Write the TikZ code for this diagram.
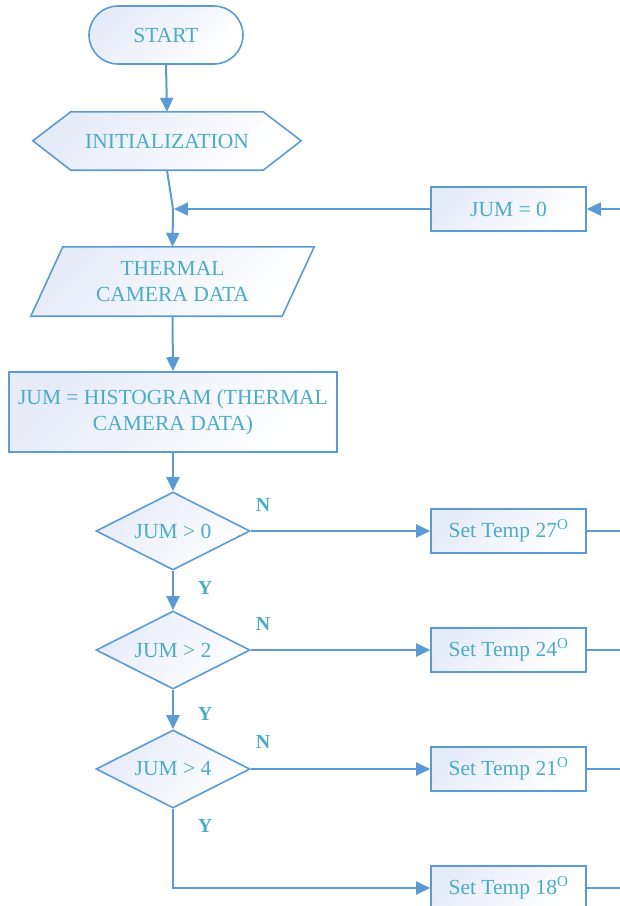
\documentclass[tikz,border=0pt]{standalone}
\usepackage{fontspec}
\setmainfont{Liberation Serif}
\usetikzlibrary{arrows.meta,calc,shapes.geometric,backgrounds}
\definecolor{lineblue}{HTML}{5B9BD5}
\definecolor{txtcol}{HTML}{4BACC6}
\definecolor{shadeA}{HTML}{E6EBF8}
\begin{document}
\begin{tikzpicture}[x=1pt,y=-1pt,
  every node/.style={text=txtcol, font=\fontsize{21.5}{26}\selectfont, align=center, inner sep=0pt},
  fillshade/.style={top color=shadeA, bottom color=white, shading angle=45},
  box/.style={draw=lineblue, line width=1.6pt, fillshade, rectangle},
  shapeline/.style={draw=lineblue, line width=1.6pt, fillshade},
  conn/.style={draw=lineblue, line width=2pt},
  arr/.style={conn, -{Triangle[length=14pt,width=13pt]}},
  lab/.style={font=\fontsize{20}{24}\selectfont\bfseries},
  dec/.style={diamond, aspect=2, draw=lineblue, line width=1.6pt, fillshade, minimum width=154pt, minimum height=78pt},
  tbox/.style={box, minimum width=155pt, minimum height=44pt},
]
\path[use as bounding box] (0,0) rectangle (620,906);
\coordinate (edge) at (620,0);

\node[box, rounded corners=29pt, minimum width=154pt, minimum height=58pt] (start) at (166,35) {START};

\node[minimum width=192pt, minimum height=58pt] (init) at (167,141) {INITIALIZATION};
\begin{scope}[on background layer]
\path[shapeline] ($(init.north west)+(-38,29)$) -- (init.north west) -- (init.north east) -- ($(init.north east)+(38,29)$) -- (init.south east) -- (init.south west) -- cycle;
\end{scope}

\coordinate (m) at (173,209);

\node[minimum width=219pt, minimum height=69pt] (thermal) at (172.5,281.5) {THERMAL\\CAMERA DATA};
\begin{scope}[on background layer]
\path[shapeline] (thermal.north west) -- ($(thermal.north east)+(32,0)$) -- (thermal.south east) -- ($(thermal.south west)+(-32,0)$) -- cycle;
\end{scope}

\node[box, minimum width=328pt, minimum height=80pt] (hist) at (173,412) {JUM = HISTOGRAM (THERMAL\\CAMERA DATA)};

\node[tbox] (j0) at (508.5,209) {JUM = 0};

\node[dec] (d1) at (173,531) {JUM {\textgreater} 0};
\node[dec] (d2) at (173,650) {JUM {\textgreater} 2};
\node[dec] (d3) at (173,769) {JUM {\textgreater} 4};

\node[tbox] (t1) at (508.5,531) {Set Temp 27\textsuperscript{O}};
\node[tbox] (t2) at (508.5,650) {Set Temp 24\textsuperscript{O}};
\node[tbox] (t3) at (508.5,769) {Set Temp 21\textsuperscript{O}};
\node[tbox] (t4) at (508.5,888) {Set Temp 18\textsuperscript{O}};

\node[lab] (n1) at (263,505) {N};
\node[lab] (n2) at (263,624) {N};
\node[lab] (n3) at (263,742) {N};
\node[lab] (y1) at (205,588) {Y};
\node[lab] (y2) at (205,714) {Y};
\node[lab] (y3) at (205,826) {Y};

\draw[arr] (start.south) -- (init.north);
\draw[conn] (init.south) -- (m);
\draw[arr] (m) -- (thermal.north);
\draw[arr] (j0.east -| edge) -- (j0.east);
\draw[arr] (j0.west) -- ($(m)+(1,0)$);
\draw[arr] (thermal.south) -- (hist.north);
\draw[arr] (hist.south) -- (d1.north);
\draw[arr] (d1.south) -- (d2.north);
\draw[arr] (d2.south) -- (d3.north);
\draw[arr] (d1.east) -- (t1.west);
\draw[arr] (d2.east) -- (t2.west);
\draw[arr] (d3.east) -- (t3.west);
\draw[arr] (d3.south) |- (t4.west);
\draw[conn] (t1.east) -- (t1.east -| edge);
\draw[conn] (t2.east) -- (t2.east -| edge);
\draw[conn] (t3.east) -- (t3.east -| edge);
\draw[conn] (t4.east) -- (t4.east -| edge);
\end{tikzpicture}
\end{document}
